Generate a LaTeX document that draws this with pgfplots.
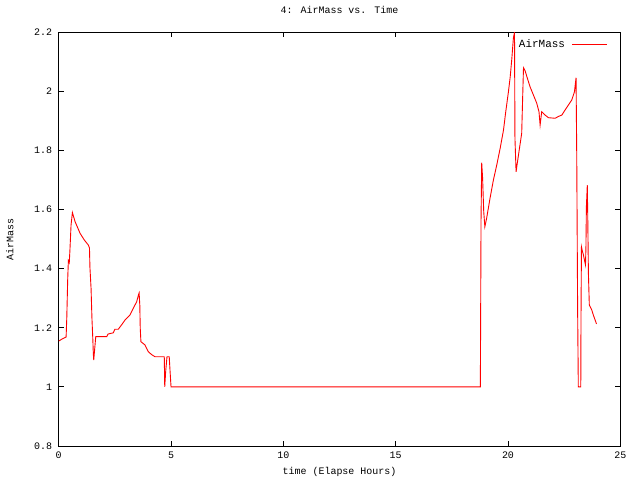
\documentclass[border=0pt]{standalone}
\usepackage{pgfplots}
\pgfplotsset{compat=1.18}
\usepackage{fontspec}
\setmainfont{Liberation Mono}
\setmonofont{Liberation Mono}
\begin{document}
\begin{tikzpicture}[x=1bp,y=1bp]
\useasboundingbox (0,0) rectangle (640,480);
\begin{axis}[
  at={(58.7bp,34bp)}, anchor=south west,
  scale only axis, width=561.6bp, height=413.7bp,
  xmin=0, xmax=25, ymin=0.8, ymax=2.2,
  xtick={0,5,10,15,20,25},
  ytick={0.8,1,1.2,1.4,1.6,1.8,2,2.2},
  yticklabels={0.8,1,1.2,1.4,1.6,1.8,2,2.2},
  xticklabels={0,5,10,15,20,25},
  tick align=inside, major tick length=5bp,
  tick style={black, line width=0.8bp},
  axis line style={black, line width=0.8bp},
  font=\fontsize{10}{12}\selectfont,
  ticklabel style={font=\fontsize{10}{12}\selectfont},
  yticklabel style={xshift=-3bp},
  xticklabel style={yshift=-2bp},
  title={4: AirMass vs. Time},
  title style={at={(axis description cs:0.5,1.039)}, anchor=center, font=\fontsize{10}{12}\selectfont},
  xlabel={time (Elapse Hours)},
  xlabel style={at={(axis description cs:0.5,-0.063)}, anchor=center},
  ylabel={AirMass},
  ylabel style={at={(axis description cs:-0.087,0.5)}, anchor=center, rotate=0},
  legend plot pos=right,
  legend style={at={(rel axis cs:0.98,0.99)}, anchor=north east, draw=none, fill=none,
    font=\fontsize{11}{13}\selectfont, inner sep=1bp, /tikz/column sep=5bp},
  legend image code/.code={\draw[#1] (0bp,0bp) -- (35bp,0bp);},
  legend cell align=right,
]
\addplot[red, line width=0.9bp, mark=none] coordinates {
(0,1.155) (0.15,1.162) (0.33,1.169) (0.36,1.234) (0.40,1.362) (0.43,1.427)
(0.47,1.42) (0.50,1.463) (0.55,1.548) (0.61,1.59) (0.73,1.559) (0.95,1.52)
(1.14,1.497) (1.32,1.48) (1.37,1.47) (1.39,1.405) (1.44,1.334) (1.48,1.232)
(1.52,1.159) (1.54,1.114) (1.56,1.091) (1.60,1.127) (1.65,1.17) (2.14,1.17)
(2.2,1.179) (2.43,1.183) (2.5,1.195) (2.65,1.195) (2.8,1.21) (2.95,1.226)
(3.17,1.243) (3.32,1.266) (3.47,1.288) (3.55,1.311) (3.58,1.318) (3.61,1.277)
(3.63,1.198) (3.66,1.153) (3.84,1.142) (3.99,1.119) (4.14,1.109) (4.29,1.102)
(4.70,1.102) (4.72,1.0) (4.76,1.05) (4.82,1.102) (4.92,1.102) (4.96,1.05)
(5.0,1.0) (18.77,1.0) (18.80,1.565) (18.83,1.759) (18.87,1.706) (18.92,1.593)
(18.97,1.542) (19.05,1.571) (19.2,1.638) (19.35,1.70) (19.5,1.751) (19.65,1.807)
(19.8,1.869) (19.9,1.931) (20.02,1.999) (20.1,2.05) (20.17,2.11) (20.24,2.18)
(20.29,2.2) (20.31,1.841) (20.36,1.728) (20.42,1.76) (20.51,1.807) (20.61,1.858)
(20.65,1.971) (20.69,2.08) (20.76,2.07) (20.84,2.05) (20.98,2.016) (21.13,1.988)
(21.28,1.96) (21.38,1.931) (21.43,1.886) (21.5,1.931) (21.65,1.92) (21.8,1.911)
(22.1,1.909) (22.24,1.915) (22.4,1.92) (22.54,1.937) (22.69,1.954) (22.84,1.971)
(22.96,1.999) (23.0,2.027) (23.03,2.046) (23.06,1.785) (23.1,1.26) (23.13,1.0)
(23.24,1.0) (23.25,1.232) (23.27,1.474) (23.31,1.46) (23.36,1.446) (23.40,1.43)
(23.45,1.413) (23.47,1.474) (23.49,1.61) (23.53,1.683) (23.55,1.58) (23.58,1.384)
(23.62,1.277) (23.73,1.26) (23.8,1.243) (23.88,1.226) (23.94,1.213)
};
\addlegendentry{AirMass}
\end{axis}
\end{tikzpicture}
\end{document}
